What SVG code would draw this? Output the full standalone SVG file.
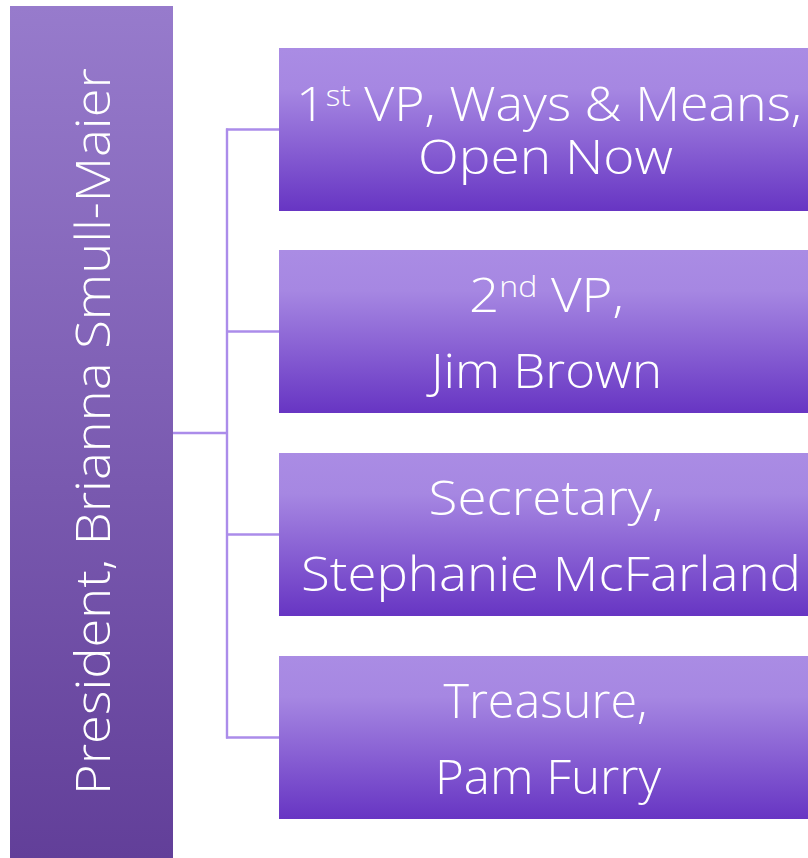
<svg xmlns="http://www.w3.org/2000/svg" width="808" height="858" viewBox="0 0 808 858">
<defs>
<linearGradient id="gBar" x1="0" y1="0" x2="0" y2="1">
<stop offset="0" stop-color="#977BCC"/>
<stop offset="1" stop-color="#623F99"/>
</linearGradient>
<linearGradient id="gBox" x1="0" y1="0" x2="0" y2="1">
<stop offset="0" stop-color="#AA8CE4"/>
<stop offset="0.25" stop-color="#A687E2"/>
<stop offset="1" stop-color="#6735C3"/>
</linearGradient>
<style>
.box{fill:url(#gBox);}
.t{font-family:"Open Sans","DejaVu Sans",sans-serif;font-weight:300;font-size:48px;fill:#FFFFFF;}
.sup{font-size:29px;}
.con{stroke:#AB8CEA;stroke-width:2.4;fill:none;}
</style>
</defs>
<rect width="808" height="858" fill="#FFFFFF"/>
<g id="connectors">
<line class="con" x1="173" y1="433" x2="227" y2="433"/>
<line class="con" x1="227" y1="128.5" x2="227" y2="738.5"/>
<line class="con" x1="226" y1="129.5" x2="279" y2="129.5"/>
<line class="con" x1="226" y1="331.5" x2="279" y2="331.5"/>
<line class="con" x1="226" y1="534.5" x2="279" y2="534.5"/>
<line class="con" x1="226" y1="737.5" x2="279" y2="737.5"/>
</g>
<g id="president">
<rect x="10" y="6" width="163" height="852" fill="url(#gBar)"/>
<text class="t" transform="translate(109.5,795) rotate(-90)" x="0" y="0" font-size="50" textLength="727" lengthAdjust="spacingAndGlyphs">President, Brianna Smull-Maier</text>
</g>
<g id="vp1">
<rect class="box" x="279" y="48" width="529" height="163"/>
<text class="t" x="296" y="121" textLength="506" lengthAdjust="spacingAndGlyphs">1<tspan class="sup" dy="-15">st</tspan><tspan dy="15"> VP, Ways &amp; Means,</tspan></text>
<text class="t" x="418" y="174" textLength="255" lengthAdjust="spacingAndGlyphs">Open Now</text>
</g>
<g id="vp2">
<rect class="box" x="279" y="250" width="529" height="163"/>
<text class="t" x="469" y="312" textLength="155" lengthAdjust="spacingAndGlyphs">2<tspan class="sup" dy="-15">nd</tspan><tspan dy="15"> VP,</tspan></text>
<text class="t" x="431" y="387.5" textLength="231" lengthAdjust="spacingAndGlyphs">Jim Brown</text>
</g>
<g id="secretary">
<rect class="box" x="279" y="453" width="529" height="163"/>
<text class="t" x="428.5" y="515" textLength="235" lengthAdjust="spacingAndGlyphs">Secretary,</text>
<text class="t" x="301" y="590.5" textLength="500" lengthAdjust="spacingAndGlyphs">Stephanie McFarland</text>
</g>
<g id="treasure">
<rect class="box" x="279" y="656" width="529" height="163"/>
<text class="t" x="443.5" y="718" textLength="204" lengthAdjust="spacingAndGlyphs">Treasure,</text>
<text class="t" x="435" y="793.5" textLength="226" lengthAdjust="spacingAndGlyphs">Pam Furry</text>
</g>
</svg>
